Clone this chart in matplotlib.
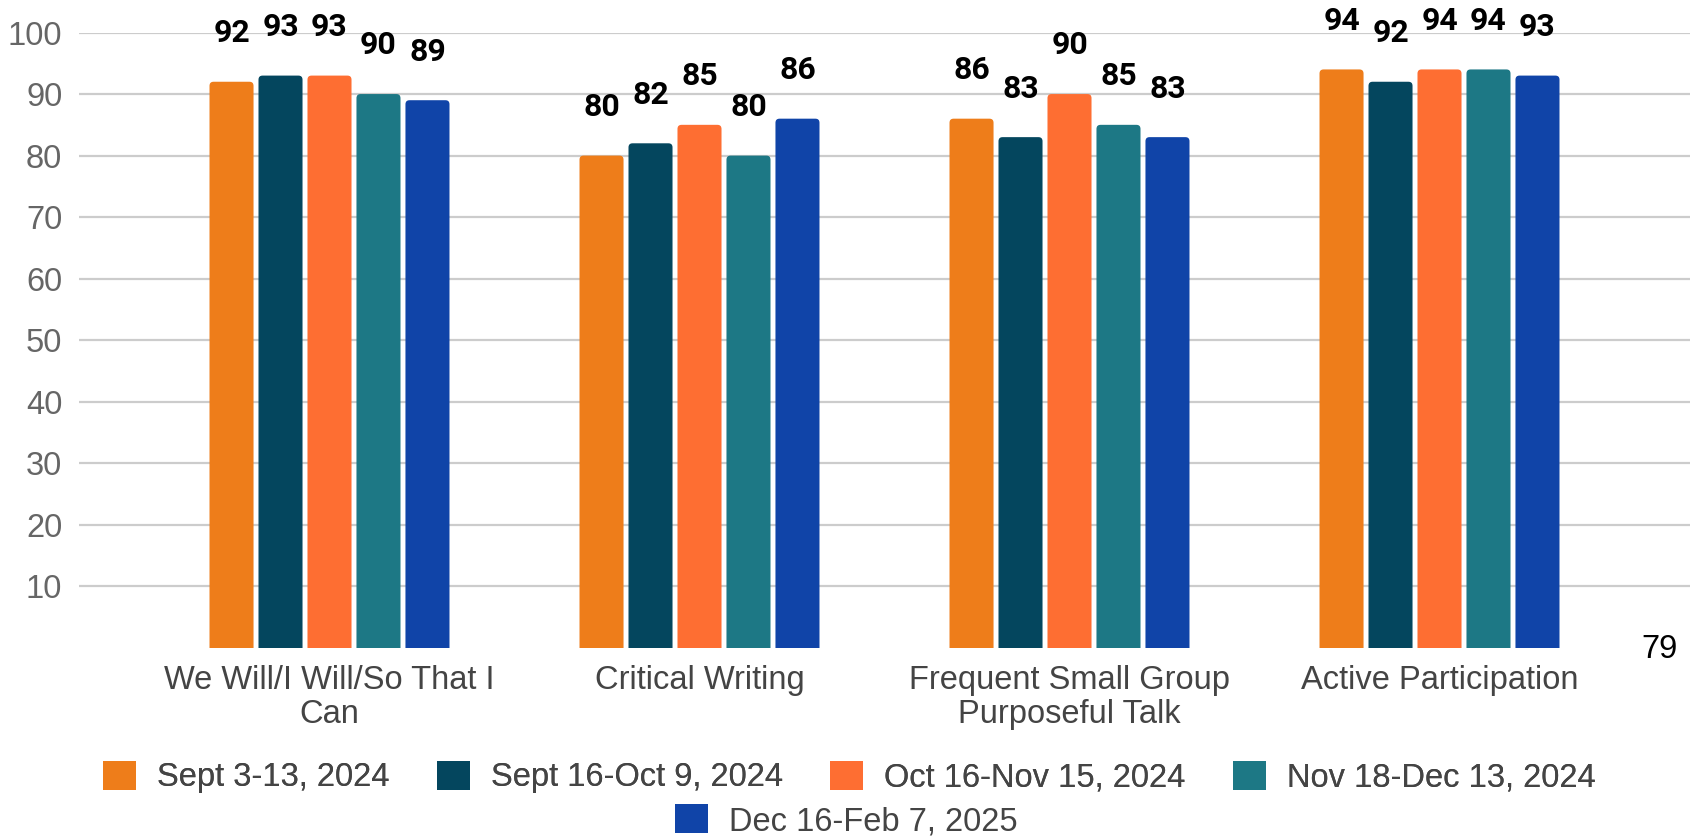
import matplotlib.pyplot as plt
from matplotlib.patches import FancyBboxPatch, Patch
import numpy as np

categories = ['We Will/I Will/So That I\nCan', 'Critical Writing',
              'Frequent Small Group\nPurposeful Talk', 'Active Participation']
periods = ['Sept 3-13, 2024', 'Sept 16-Oct 9, 2024', 'Oct 16-Nov 15, 2024',
           'Nov 18-Dec 13, 2024', 'Dec 16-Feb 7, 2025']
sept_early = [92, 80, 86, 94]
sept_oct = [93, 82, 83, 92]
oct_nov = [93, 85, 90, 94]
nov_dec = [90, 80, 85, 94]
dec_feb = [89, 86, 83, 93]
series = [sept_early, sept_oct, oct_nov, nov_dec, dec_feb]
colors = ['#EE7D1A', '#04465E', '#FE6E32', '#1D7885', '#1044A8']
yticks = [10, 20, 30, 40, 50, 60, 70, 80, 90, 100]

plt.rcParams['font.family'] = ['Liberation Sans', 'DejaVu Sans']
fs = 23.5

fig = plt.figure(figsize=(16.99, 8.4), dpi=100)
ax = fig.add_axes([0.0465, 0.2286, 0.9482, 0.7327])

x = np.arange(len(categories))
step = 0.1324
width = 0.119
handles = []
for i, vals in enumerate(series):
    pos = x + (i - 2) * step
    b = ax.bar(pos, vals, width=width, color=colors[i], zorder=3)
    # swap plain rectangles for ones with slightly rounded top corners
    for r in b.patches:
        r.set_visible(False)
        fb = FancyBboxPatch((r.get_x(), r.get_y() - 2), r.get_width(), r.get_height() + 2,
                            boxstyle='round,pad=0,rounding_size=0.011', mutation_aspect=60,
                            facecolor=colors[i], edgecolor='none', zorder=3)
        ax.add_patch(fb)
    handles.append(Patch(facecolor=colors[i], edgecolor='none', label=periods[i]))
    for px, v in zip(pos, vals):
        ax.annotate(str(v), (px, v), xytext=(0, 35), textcoords='offset points',
                    ha='center', va='center', fontsize=23, fontweight='bold',
                    family=['Roboto', 'DejaVu Sans'], color='black', annotation_clip=False)

ax.set_xlim(-0.677, 3.677)
ax.set_ylim(0, 100)
ax.set_yticks(yticks)
ax.set_yticklabels([str(t) for t in yticks])
ax.set_xticks(x)
ax.set_xticklabels(categories, fontsize=fs, color='#444444', linespacing=1.12)
ax.tick_params(axis='y', labelsize=fs, labelcolor='#666666', length=0, pad=12)
ax.tick_params(axis='x', length=0, pad=12)
ax.grid(axis='y', color='#cccccc', linewidth=1.6, zorder=0)
for s in ax.spines.values():
    s.set_visible(False)

fig.text(0.9765, 0.227, '79', fontsize=fs, color='black', ha='center', va='center')

leg_kw = dict(frameon=False, fontsize=fs, handlelength=1.0, handleheight=1.0,
              handletextpad=0.65, labelcolor='#444444')
leg1 = fig.legend(handles=handles[:4], loc='center', bbox_to_anchor=(0.5, 0.075),
                  ncol=4, columnspacing=1.45, **leg_kw)
fig.add_artist(leg1)
fig.legend(handles=handles[4:], loc='center', bbox_to_anchor=(0.498, 0.023),
           ncol=1, **leg_kw)

fig.savefig('out.png', dpi=100)
